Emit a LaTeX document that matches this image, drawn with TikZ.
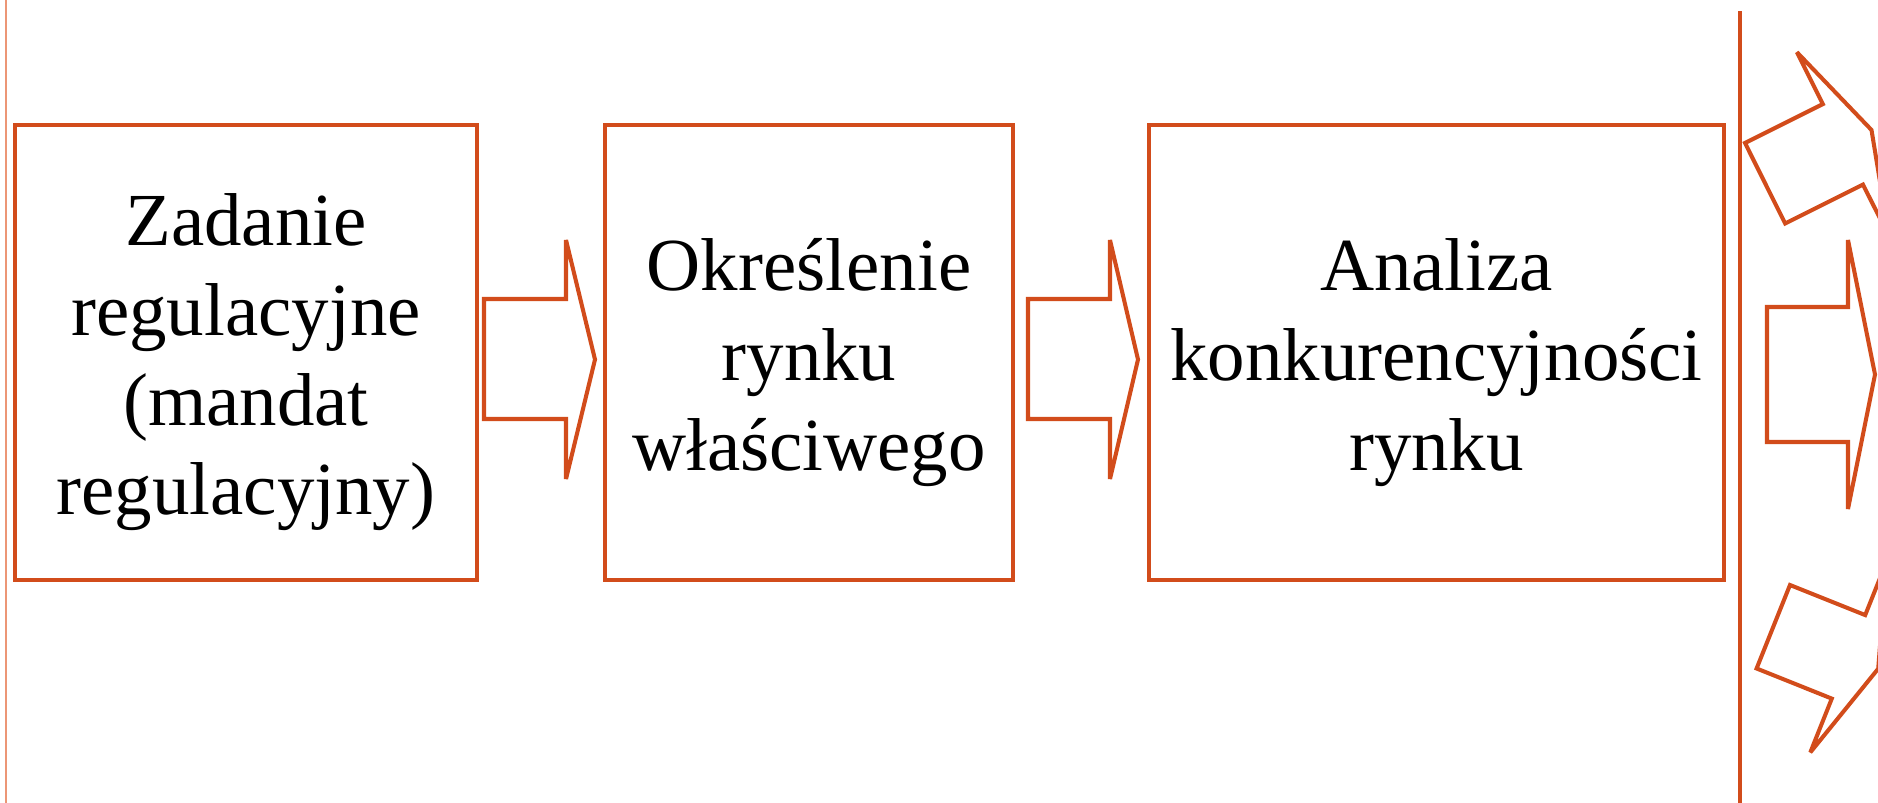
\documentclass[tikz,border=0pt]{standalone}
\usepackage{fontspec}
\setmainfont{Liberation Serif}
\usepackage{tikz}

\definecolor{rust}{RGB}{210,76,27}
\definecolor{lightrust}{RGB}{236,150,118}

\tikzset{
  box/.style={draw=rust, line width=1.3pt, minimum height=4.55cm, inner sep=0pt},
  boxtext/.style={align=center, font=\fontsize{21.3pt}{25.5pt}\selectfont, yshift=-0.1cm},
  blockarrow/.style={draw=rust, line width=1.15pt, line join=miter, miter limit=5},
}

\begin{document}
\begin{tikzpicture}[x=0.01cm, y=-0.01cm]
  \useasboundingbox (0,0) rectangle (1878,803);
  \clip (0,0) rectangle (1878,803);

  \draw[lightrust, line width=0.6pt] (6,0) -- (6,803);

  \node (zad) at (246,352.5) [box, minimum width=4.62cm] {};
  \node (okr) at (809,352.5) [box, minimum width=4.08cm] {};
  \node (ana) at (1436.5,352.5) [box, minimum width=5.75cm] {};

  \node (zadtxt) at (zad.center) [boxtext] {Zadanie\\regulacyjne\\(mandat\\regulacyjny)};
  \node (okrtxt) at (okr.center) [boxtext] {Określenie\\rynku\\właściwego};
  \node (anatxt) at (ana.center) [boxtext] {Analiza\\konkurencyjności\\rynku};

  % arrows between the boxes
  \draw[blockarrow] (484,299) -- (566,299) -- (566,240) -- (595,359.5)
    -- (566,479) -- (566,419) -- (484,419) -- cycle;
  \draw[blockarrow] (1028,299) -- (1110,299) -- (1110,240) -- (1138,359.5)
    -- (1110,479) -- (1110,419) -- (1028,419) -- cycle;

  \draw[rust, line width=1.4pt] (1740,11) -- (1740,803);

  % fan of arrows on the right
  \draw[blockarrow] (1745,143) -- (1822.8,104.1) -- (1796.9,52.2) -- (1871.5,130)
    -- (1889,236.4) -- (1863,184.6) -- (1785.2,223.5) -- cycle;
  \draw[blockarrow] (1767,307) -- (1848,307) -- (1848,240) -- (1875,374.5)
    -- (1848,509) -- (1848,442) -- (1767,442) -- cycle;
  \draw[blockarrow] (1790,585) -- (1865.2,615.1) -- (1886.7,561.3) -- (1878.2,668.7)
    -- (1810.3,752.4) -- (1831.8,698.6) -- (1756.6,668.5) -- cycle;
\end{tikzpicture}
\end{document}
